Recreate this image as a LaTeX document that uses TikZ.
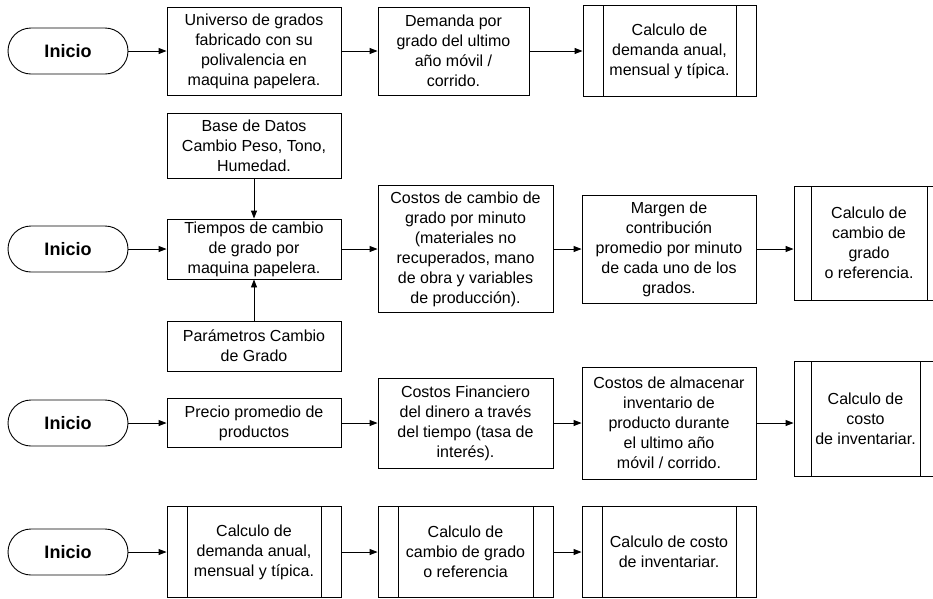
\documentclass[tikz,border=0pt]{standalone}
\usepackage{fontspec}
\setmainfont{Liberation Sans}
\usetikzlibrary{arrows.meta}

\tikzset{
  box/.style={draw, line width=0.9pt, align=center, inner sep=2pt,
    font=\fontsize{16}{20}\selectfont},
  subproc/.style={box, path picture={
    \draw[line width=0.9pt] ([xshift=#1]path picture bounding box.north west) -- ([xshift=#1]path picture bounding box.south west);
    \draw[line width=0.9pt] ([xshift=-#1]path picture bounding box.north east) -- ([xshift=-#1]path picture bounding box.south east);}},
  subproc/.default=20pt,
  term/.style={draw, line width=0.9pt, rounded corners=23pt, minimum width=120pt,
    minimum height=46pt, font=\fontsize{18}{20}\selectfont\bfseries},
  flow/.style={-{Triangle[length=8pt,width=6pt]}, line width=0.9pt}
}

\begin{document}
\begin{tikzpicture}[x=1pt, y=-1pt]
    \useasboundingbox (0,0) rectangle (933,598);
    % fila 1
    \node[term] (ini1) at (68,51) {Inicio};
    \node[box, minimum width=174pt, minimum height=88pt] (univ) at (254,51)
        {Universo de grados\\fabricado con su\\polivalencia en\\maquina papelera.};
    \node[box, minimum width=151pt, minimum height=88pt] (dem) at (453.5,51)
        {Demanda por\\grado del ultimo\\año móvil /\\corrido.};
    \node[subproc, minimum width=173pt, minimum height=91pt] (calcA) at (669.5,51)
        {Calculo de\\demanda anual,\\mensual y típica.};
    \draw[flow] (ini1) -- (univ);
    \draw[flow] (univ) -- (dem);
    \draw[flow] (dem) -- (calcA);
    % fila 2
    \node[term] (ini2) at (68,249) {Inicio};
    \node[box, minimum width=174pt, minimum height=65pt] (base) at (254,145.5)
        {Base de Datos\\Cambio Peso, Tono,\\Humedad.};
    \node[box, minimum width=174pt, minimum height=60pt] (tiem) at (254,249)
        {Tiempos de cambio\\de grado por\\maquina papelera.};
    \node[box, minimum width=174pt, minimum height=50pt] (param) at (254,346)
        {Parámetros Cambio\\de Grado};
    \node[box, minimum width=175pt, minimum height=127pt] (ccam) at (465.5,249)
        {Costos de cambio de\\grado por minuto\\(materiales no\\recuperados, mano\\de obra y variables\\de producción).};
    \node[box, minimum width=174pt, minimum height=108pt] (marg) at (669,249)
        {Margen de\\contribución\\promedio por minuto\\de cada uno de los\\grados.};
    \node[subproc=17pt, minimum width=150pt, minimum height=114pt] (calcB) at (869,243)
        {Calculo de\\cambio de\\grado\\o referencia.};
    \draw[flow] (ini2) -- (tiem);
    \draw[flow] (base) -- (tiem);
    \draw[flow] (param) -- (tiem);
    \draw[flow] (tiem) -- (ccam);
    \draw[flow] (ccam) -- (marg);
    \draw[flow] (marg.east) -- (marg.east -| calcB.west);
    % fila 3
    \node[term] (ini3) at (68,423) {Inicio};
    \node[box, minimum width=174pt, minimum height=49pt] (prec) at (254,423)
        {Precio promedio de\\productos};
    \node[box, minimum width=175pt, minimum height=90pt] (cfin) at (465.5,423)
        {Costos Financiero\\del dinero a través\\del tiempo (tasa de\\interés).};
    \node[box, minimum width=174pt, minimum height=112pt] (alm) at (669,423)
        {Costos de almacenar\\inventario de\\producto durante\\el ultimo año\\móvil / corrido.};
    \node[subproc=17pt, minimum width=143pt, minimum height=115pt] (calcC) at (865.5,419)
        {Calculo de\\costo\\de inventariar.};
    \draw[flow] (ini3) -- (prec);
    \draw[flow] (prec) -- (cfin);
    \draw[flow] (cfin) -- (alm);
    \draw[flow] (alm.east) -- (alm.east -| calcC.west);
    % fila 4
    \node[term] (ini4) at (68,552) {Inicio};
    \node[subproc, minimum width=174pt, minimum height=91pt] (calcD) at (254,552)
        {Calculo de\\demanda anual,\\mensual y típica.};
    \node[subproc, minimum width=175pt, minimum height=91pt] (calcE) at (465.5,552)
        {Calculo de\\cambio de grado\\o referencia};
    \node[subproc, minimum width=174pt, minimum height=91pt] (calcF) at (669,552)
        {Calculo de costo\\de inventariar.};
    \draw[flow] (ini4) -- (calcD);
    \draw[flow] (calcD) -- (calcE);
    \draw[flow] (calcE) -- (calcF);
\end{tikzpicture}
\end{document}
